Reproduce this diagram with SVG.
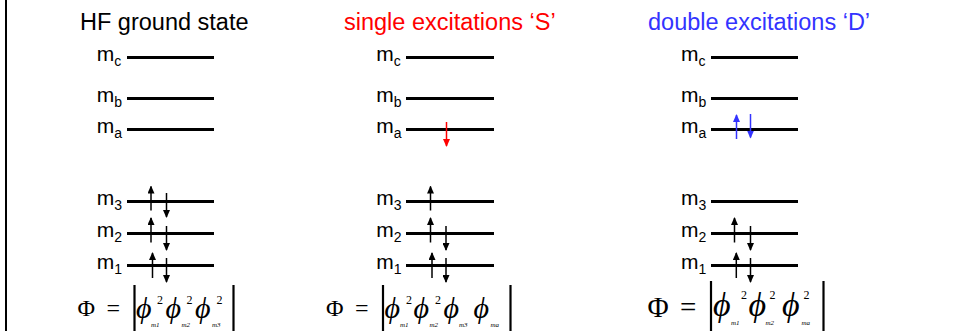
<svg xmlns="http://www.w3.org/2000/svg" width="953" height="331" viewBox="0 0 953 331">
<style>
.title{font-family:"Liberation Sans",Arial,sans-serif;font-size:23.5px}
.lbl{font-family:"Liberation Sans",Arial,sans-serif;font-size:21px;fill:#000}
.sub{font-size:14px}
.lvl{stroke:#000;stroke-width:3}
.e{stroke:#000;stroke-width:1.5;marker-end:url(#ah)}
.er{stroke:#ff0000;stroke-width:1.5;marker-end:url(#ahr)}
.eb{stroke:#3333ff;stroke-width:1.5;marker-end:url(#ahb)}
.bar{stroke:#000;stroke-width:2.2}
.f{font-family:"Liberation Serif","Times New Roman",serif;fill:#000}
.phi{font-style:italic}
.sup{font-family:"Liberation Serif","Times New Roman",serif;font-size:12px}
.ss{font-family:"Liberation Serif","Times New Roman",serif;font-size:7px;font-style:italic}
</style>
<defs>
<marker id="ah" viewBox="0 0 8 7" refX="7" refY="3.5" markerWidth="8" markerHeight="7" markerUnits="userSpaceOnUse" orient="auto"><path d="M0,0 L8,3.5 L0,7 z" fill="#000"/></marker>
<marker id="ahr" viewBox="0 0 8 7" refX="7" refY="3.5" markerWidth="8" markerHeight="7" markerUnits="userSpaceOnUse" orient="auto"><path d="M0,0 L8,3.5 L0,7 z" fill="#ff0000"/></marker>
<marker id="ahb" viewBox="0 0 8 7" refX="7" refY="3.5" markerWidth="8" markerHeight="7" markerUnits="userSpaceOnUse" orient="auto"><path d="M0,0 L8,3.5 L0,7 z" fill="#3333ff"/></marker>
</defs>
<rect width="953" height="331" fill="#fff"/>
<line x1="6" y1="0" x2="6" y2="331" stroke="#000" stroke-width="2"/>

<g id="col-hf">
<text class="title" x="80" y="29.5" fill="#000">HF ground state</text>
<g class="levels">
<line class="lvl" x1="127" y1="57.5" x2="214" y2="57.5"/>
<line class="lvl" x1="127" y1="98.5" x2="214" y2="98.5"/>
<line class="lvl" x1="127" y1="129.5" x2="214" y2="129.5"/>
<line class="lvl" x1="127" y1="201.5" x2="214" y2="201.5"/>
<line class="lvl" x1="127" y1="233.5" x2="214" y2="233.5"/>
<line class="lvl" x1="127" y1="265.5" x2="214" y2="265.5"/>
</g>
<text class="lbl" x="96.7" y="61">m<tspan class="sub" dy="4.5">c</tspan></text>
<text class="lbl" x="96.7" y="102">m<tspan class="sub" dy="4.5">b</tspan></text>
<text class="lbl" x="96.7" y="133">m<tspan class="sub" dy="4.5">a</tspan></text>
<text class="lbl" x="96.7" y="205">m<tspan class="sub" dy="4.5">3</tspan></text>
<text class="lbl" x="96.7" y="237">m<tspan class="sub" dy="4.5">2</tspan></text>
<text class="lbl" x="96.7" y="269">m<tspan class="sub" dy="4.5">1</tspan></text>
<line class="e" x1="151" y1="210.5" x2="151" y2="186.5"/>
<line class="e" x1="166.5" y1="193" x2="166.5" y2="217"/>
<line class="e" x1="151" y1="242.5" x2="151" y2="218"/>
<line class="e" x1="166.5" y1="226" x2="166.5" y2="250"/>
<line class="e" x1="152.5" y1="278" x2="152.5" y2="253"/>
<line class="e" x1="166.5" y1="258" x2="166.5" y2="282"/>
<text class="f" x="77.5" y="315.5" font-size="24">Φ</text>
<text class="f" x="106.5" y="315.5" font-size="24">=</text>
<line class="bar" x1="134.5" y1="285" x2="134.5" y2="331"/>
<text class="f phi" x="136" y="318" font-size="30">ϕ</text>
<text class="sup" x="157" y="304">2</text>
<text class="ss" x="151" y="327">m1</text>
<text class="f phi" x="165.5" y="318" font-size="30">ϕ</text>
<text class="sup" x="186.5" y="304">2</text>
<text class="ss" x="181.5" y="327">m2</text>
<text class="f phi" x="195" y="318" font-size="30">ϕ</text>
<text class="sup" x="216.5" y="304">2</text>
<text class="ss" x="212" y="327">m3</text>
<line class="bar" x1="233.5" y1="285" x2="233.5" y2="331"/>
</g>

<g id="col-single">
<text class="title" x="344" y="29.5" fill="#ff0000">single excitations ‘S’</text>
<g class="levels">
<line class="lvl" x1="406" y1="57.5" x2="494" y2="57.5"/>
<line class="lvl" x1="406" y1="98.5" x2="494" y2="98.5"/>
<line class="lvl" x1="406" y1="129.5" x2="494" y2="129.5"/>
<line class="lvl" x1="406" y1="201.5" x2="494" y2="201.5"/>
<line class="lvl" x1="406" y1="233.5" x2="494" y2="233.5"/>
<line class="lvl" x1="406" y1="265.5" x2="494" y2="265.5"/>
</g>
<text class="lbl" x="376.2" y="61">m<tspan class="sub" dy="4.5">c</tspan></text>
<text class="lbl" x="376.2" y="102">m<tspan class="sub" dy="4.5">b</tspan></text>
<text class="lbl" x="376.2" y="133">m<tspan class="sub" dy="4.5">a</tspan></text>
<text class="lbl" x="376.2" y="205">m<tspan class="sub" dy="4.5">3</tspan></text>
<text class="lbl" x="376.2" y="237">m<tspan class="sub" dy="4.5">2</tspan></text>
<text class="lbl" x="376.2" y="269">m<tspan class="sub" dy="4.5">1</tspan></text>
<line class="er" x1="446.5" y1="122" x2="446.5" y2="146"/>
<line class="e" x1="430.5" y1="210.5" x2="430.5" y2="186.5"/>
<line class="e" x1="430.5" y1="242.5" x2="430.5" y2="218"/>
<line class="e" x1="446" y1="226" x2="446" y2="250"/>
<line class="e" x1="432" y1="278" x2="432" y2="253"/>
<line class="e" x1="446" y1="258" x2="446" y2="282"/>
<text class="f" x="326" y="315.5" font-size="24">Φ</text>
<text class="f" x="355" y="315.5" font-size="24">=</text>
<line class="bar" x1="383" y1="285" x2="383" y2="331"/>
<text class="f phi" x="384.5" y="318" font-size="30">ϕ</text>
<text class="sup" x="406" y="304">2</text>
<text class="ss" x="400" y="327">m1</text>
<text class="f phi" x="413.5" y="318" font-size="30">ϕ</text>
<text class="sup" x="435" y="304">2</text>
<text class="ss" x="429.5" y="327">m2</text>
<text class="f phi" x="443.5" y="318" font-size="30">ϕ</text>
<text class="ss" x="459" y="327">m3</text>
<text class="f phi" x="473.5" y="318" font-size="30">ϕ</text>
<text class="ss" x="490.5" y="327">ma</text>
<line class="bar" x1="510.5" y1="285" x2="510.5" y2="331"/>
</g>

<g id="col-double">
<text class="title" x="648" y="29.5" fill="#3333ff">double excitations ‘D’</text>
<g class="levels">
<line class="lvl" x1="711" y1="57.5" x2="798" y2="57.5"/>
<line class="lvl" x1="711" y1="98.5" x2="798" y2="98.5"/>
<line class="lvl" x1="711" y1="129.5" x2="798" y2="129.5"/>
<line class="lvl" x1="711" y1="201.5" x2="798" y2="201.5"/>
<line class="lvl" x1="711" y1="233.5" x2="798" y2="233.5"/>
<line class="lvl" x1="711" y1="265.5" x2="798" y2="265.5"/>
</g>
<text class="lbl" x="681" y="61">m<tspan class="sub" dy="4.5">c</tspan></text>
<text class="lbl" x="681" y="102">m<tspan class="sub" dy="4.5">b</tspan></text>
<text class="lbl" x="681" y="133">m<tspan class="sub" dy="4.5">a</tspan></text>
<text class="lbl" x="681" y="205">m<tspan class="sub" dy="4.5">3</tspan></text>
<text class="lbl" x="681" y="237">m<tspan class="sub" dy="4.5">2</tspan></text>
<text class="lbl" x="681" y="269">m<tspan class="sub" dy="4.5">1</tspan></text>
<line class="eb" x1="736.5" y1="139" x2="736.5" y2="115"/>
<line class="eb" x1="750.5" y1="114" x2="750.5" y2="137.5"/>
<line class="e" x1="734.5" y1="242.5" x2="734.5" y2="218"/>
<line class="e" x1="750.5" y1="226" x2="750.5" y2="250"/>
<line class="e" x1="736.3" y1="278" x2="736.3" y2="253"/>
<line class="e" x1="750.5" y1="258" x2="750.5" y2="282"/>
<text class="f" x="647.5" y="316.5" font-size="29">Φ</text>
<text class="f" x="680" y="316.5" font-size="29">=</text>
<line class="bar" x1="711" y1="281" x2="711" y2="331"/>
<text class="f phi" x="713" y="316" font-size="34">ϕ</text>
<text class="sup" x="741" y="299" font-size="14">2</text>
<text class="ss" x="731" y="325" font-size="8">m1</text>
<text class="f phi" x="748.5" y="316" font-size="34">ϕ</text>
<text class="sup" x="769.5" y="299" font-size="14">2</text>
<text class="ss" x="765.5" y="325" font-size="8">m2</text>
<text class="f phi" x="782" y="316" font-size="34">ϕ</text>
<text class="sup" x="803.5" y="299" font-size="14">2</text>
<text class="ss" x="801.5" y="325" font-size="8">ma</text>
<line class="bar" x1="823.5" y1="281" x2="823.5" y2="331"/>
</g>
</svg>
